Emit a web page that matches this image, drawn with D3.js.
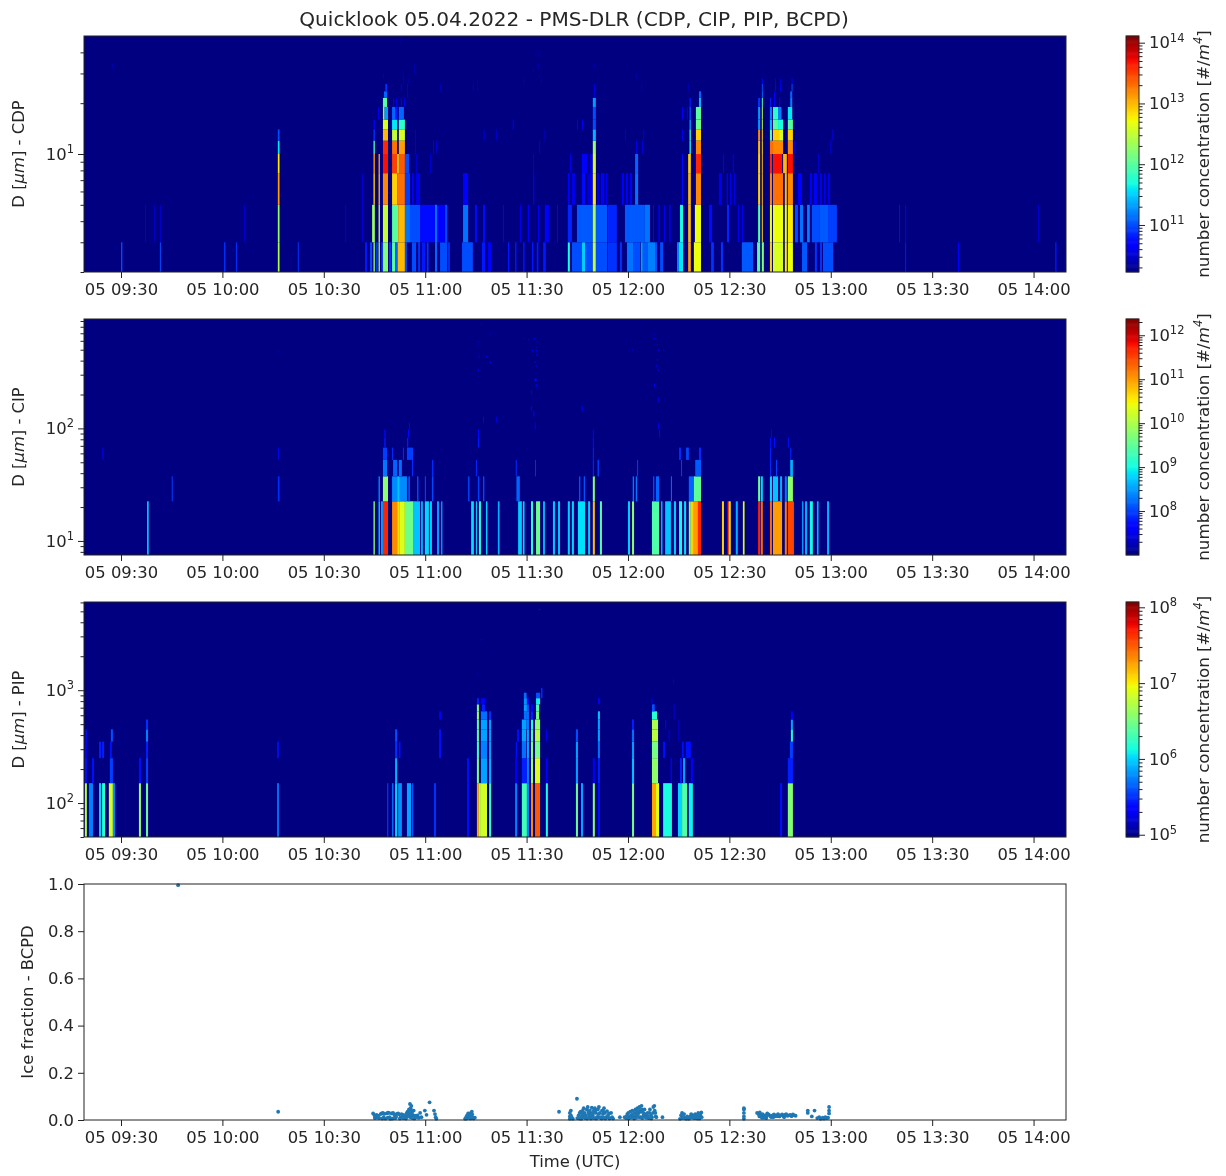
<!DOCTYPE html>
<html><head><meta charset="utf-8">
<script src="https://cdn.jsdelivr.net/npm/d3@7"></script>
<style>
html,body{margin:0;padding:0;background:#fff;}
svg{display:block;filter:blur(0.45px);}
text{font-family:"DejaVu Sans",sans-serif;fill:#262626;}
</style></head><body><svg id="c" width="1226" height="1176"></svg>
<script>
// All times: minutes after 09:00 UTC. Concentrations: log10 of number concentration.
const titleText = "Quicklook 05.04.2022 - PMS-DLR (CDP, CIP, PIP, BCPD)";
const xTickMinutes = [30,60,90,120,150,180,210,240,270,300];
const xTickLabels = ["05 09:30","05 10:00","05 10:30","05 11:00","05 11:30","05 12:00","05 12:30","05 13:00","05 13:30","05 14:00"];
const xRange = [19.05,309.6];

// ---- CDP ----
const cdpEdges = [2,3,5,7.7,10,12,14,16,19,21.5,23.5,26,28,30,32,34,36,38,40,42,44,46,48,50];
const cdpRow0 = [[30,30.4,11],[41.5,41.8,11],[60.5,60.9,10.9],[64,64.3,10.9],[76.4,76.9,12.4],[82.3,82.6,10.9],[102.2,102.8,10.8],[103.7,104.3,11],[104.7,105.1,12.3],[105.4,106,10.9],[106.2,106.6,12.3],[107,107.5,10.9],[107.5,109,12.2],[109.3,109.9,10.9],[110.2,111.1,12],[111.1,111.7,11.1],[111.8,114,13],[114,114.6,11],[116.1,117.3,11],[117.9,118.5,10.9],[119,120,10.8],[120.5,121,10.9],[122.9,123.5,11.1],[124.4,126.5,11],[126.8,127.3,10.9],[130.9,134.1,11],[136.8,137.7,10.8],[138.6,139.5,10.7],[144.5,144.9,10.8],[146.6,147,10.8],[149,149.4,10.8],[151.6,152,10.8],[153,153.5,10.8],[154.9,155.7,10.8],[162.2,162.8,11.7],[163.4,166.4,11],[166.4,167.3,11.5],[167.3,169.6,11],[169.6,170.5,12.5],[170.5,173.8,11],[174,176.7,10.9],[177.6,178.2,10.9],[179.7,181.5,11.15],[181.5,183.6,11],[183.8,184.4,11.3],[184.4,185.9,11.05],[185.9,188,11.2],[188,188.6,11],[189.5,190.4,11],[194.5,195.1,11.2],[195.1,196.3,11.6],[197.8,198.6,13.1],[199.5,201.6,12.7],[204.6,205.4,10.9],[207.5,208.1,10.9],[213.7,217,11.05],[218.2,219.1,12],[219.6,220.2,12.2],[222,222.6,12.9],[222.9,225.9,12.6],[226.4,227,12.8],[227.3,228.8,12.7],[231.5,233,11.05],[235.3,235.9,10.9],[236.8,237.4,10.9],[237.7,240.7,11],[262,262.3,10.8],[277.6,278,10.7],[306.4,306.8,10.8]];
const cdpRow1 = [[37.1,37.4,10.5],[39.8,40.1,10.5],[41.5,41.8,10.5],[66.4,66.7,10.5],[76.4,76.9,12.3],[96.3,96.6,10.5],[101.3,101.7,10.5],[104.3,105.1,12.3],[106.2,106.6,12.5],[107.5,109,12.5],[110.2,112,12],[112,114,13],[114,115.5,11.15],[115.5,118.5,11],[118.5,122.9,10.75],[122.9,123.5,11.15],[123.5,125.9,10.7],[125.9,126.5,11],[131.2,132.7,11.15],[134.7,135.3,10.75],[137.1,137.7,10.75],[143,143.3,10.7],[148,148.3,10.7],[150.4,150.7,10.7],[153.4,153.8,10.7],[155.4,156.6,10.7],[159,159.3,10.7],[162.2,163.4,10.85],[164.9,169.6,11.05],[169.6,170.5,12.4],[170.5,173.8,11.05],[174,176.7,10.85],[179.1,185,11.05],[185,186.5,11.15],[187.4,187.7,10.7],[189,189.4,10.7],[190.7,191,10.7],[192.2,192.6,10.7],[195.4,196.3,11.7],[197.8,198.6,13],[199.8,201.6,12.7],[204,204.9,10.75],[209.3,209.9,10.85],[212.5,212.8,10.7],[213.7,214,10.7],[218.5,219.1,12],[219.6,219.9,12.9],[222,222.6,12.7],[222.9,225.9,12.7],[226.4,227,12.7],[227.3,228.8,12.8],[229.4,230.3,11],[230.9,231.8,11.15],[233,233.8,11.2],[234.4,236.8,11],[236.8,239.2,11.05],[239.2,241.8,10.95],[260.2,260.5,10.75],[262,262.3,10.6],[301.4,301.7,10.6]];
const cdpRow2 = [[76.4,76.9,13.1],[101.3,101.7,10.5],[104.7,105.1,12.9],[106.2,106.6,13],[107.5,109,13.2],[110.2,111.7,12.9],[111.7,114,13.3],[114,115.5,10.95],[116.1,116.6,10.65],[117.3,118.5,10.6],[131.2,132.7,10.65],[151.9,152.3,10.55],[162.2,162.8,10.65],[163.4,164.3,10.6],[166.4,167.3,10.75],[168,168.4,10.6],[168.8,169.6,10.65],[169.6,170.5,12.8],[170.8,171.4,10.6],[172,173,10.65],[173.4,174,10.6],[178.2,178.8,10.7],[179.4,180,10.7],[180.5,181.2,10.7],[182.1,183,11.15],[196,196.3,10.75],[197.8,198.6,13],[200.1,201.6,13.2],[206.9,207.8,10.6],[209.2,209.6,10.6],[210.2,210.6,10.6],[211.4,211.8,10.6],[218.5,219.1,12.9],[219.6,219.9,13],[222,222.6,13.2],[222.9,225.9,13.3],[226.4,227,13],[227.3,228.8,13.2],[230.3,231.5,10.7],[233.8,234.4,10.7],[235,235.9,10.7],[236.8,237.4,10.6],[238,238.5,10.6],[239.1,239.8,10.6]];
const cdpRow3 = [[76.4,76.9,12.8],[104.7,105.1,13.1],[106.2,106.6,13.1],[107.5,109,13.7],[110.2,111.7,13.5],[111.7,112.2,12.6],[112.2,114,13.4],[114,115.2,11],[117.3,117.6,10.5],[121.4,121.7,10.5],[151.9,152.2,10.5],[162.8,163.1,10.6],[166.4,167.9,10.7],[168.8,169.6,10.6],[169.6,170.5,12.6],[182.1,183,11.1],[196,196.3,10.75],[197.8,198.6,12.9],[200.1,201.6,13.6],[208.1,208.4,10.6],[211,211.3,10.55],[218.5,219.1,12.9],[219.6,219.9,13],[222,222.6,13.6],[222.9,225.6,13.7],[225.9,227,13],[227.3,228.8,13.7],[236.2,236.5,10.5]];
const cdpRow4 = [[76.4,76.9,11.6],[104.7,105.1,11.9],[107.5,109,13.6],[110.2,111.7,13.3],[112.2,114,13.1],[117,117.3,10.5],[122.3,122.6,10.5],[123.2,123.5,10.5],[153.7,154,10.5],[169.6,170.5,12.3],[182.4,182.7,10.6],[184.2,184.5,10.6],[198.2,198.6,11.7],[200.1,201.6,13.2],[218.5,219.1,13],[219.6,219.9,12.9],[222,222.9,13.3],[222.9,225.9,13.2],[227.3,228.8,13.2],[229.1,229.4,10.6],[239.9,240.2,10.6]];
const cdpRow5 = [[76.4,76.9,11],[104.7,105.1,10.9],[107.5,109,13],[110.2,111.7,12.5],[112.2,114,12.6],[117,117.3,10.5],[137.3,137.6,10.5],[140.9,141.2,10.5],[155.3,155.6,10.5],[169.6,170.5,11.4],[179.1,179.4,10.5],[184.5,184.8,10.5],[196,196.3,10.6],[198.2,198.6,11.8],[200.1,201.6,12.9],[218.5,219.1,13.2],[219.6,219.9,12.9],[222,222.6,12],[222.9,224.7,12.9],[224.7,225.9,12.6],[227.3,228.8,12.9],[240.5,240.8,10.6]];
const cdpRow6 = [[104.7,105.1,10.7],[107.5,109,12.6],[110.2,111.7,11.6],[112.2,114,11.8],[145.9,146.2,10.6],[164.9,165.2,10.6],[166.4,166.7,10.6],[169.6,170.5,11],[198.2,198.6,11.3],[200.1,201.6,12.1],[218.5,219.1,11.3],[219.6,219.9,12.5],[222,222.6,11.4],[222.9,224.4,12],[224.4,225.9,11.7],[227.3,228.8,12]];
const cdpRow7 = [[106,106.3,10.7],[107.5,108,12.3],[108,109,11.3],[110.2,111.2,11.1],[111.2,111.9,10.8],[112.2,113.7,11.1],[169.6,170.5,11],[196,196.3,10.7],[197.4,197.7,10.6],[198.2,198.6,11],[200.1,201.6,12],[218.5,219.1,11.3],[219.6,219.9,12.4],[222,222.6,11.2],[222.9,224.4,11.8],[224.4,225.4,11.2],[227.3,228.6,11.6]];
const cdpRow8 = [[107.5,108.7,12],[110.5,110.8,10.6],[111.4,111.7,10.6],[112.8,113.1,10.6],[113.7,114,10.6],[169.6,170.5,11.3],[198.2,198.6,10.8],[201,201.6,11.4],[218.5,219.1,10.9],[219.6,219.9,12],[222,222.3,10.8],[223.2,223.5,10.7],[224.7,225,10.7],[228,228.6,11.2]];
const cdpRow9 = [[107.8,108.7,11.1],[114.6,114.9,10.5],[169.9,170.2,10.6],[201,201.6,11.1],[219.6,219.9,11.1],[223.2,223.5,10.7],[228,228.6,11.1]];
const cdpSparse = [[10,108.2,108.7,10.9],[10,112.8,113.1,10.5],[10,114.6,114.9,10.5],[10,124.4,124.7,10.4],[10,134.1,134.4,10.4],[10,135.3,135.6,10.4],[10,169.9,170.2,10.6],[10,219.6,219.9,11],[10,223.5,223.8,10.6],[10,225,225.3,10.6],[10,228.4,228.7,11],[10,197.8,198.1,10.4],[10,183.9,184.2,10.4],[11,113.4,113.7,10.4],[11,115,115.3,10.4],[11,135.3,135.6,10.4],[11,149,149.3,10.4],[11,154.3,154.6,10.4],[11,219.6,219.9,10.7],[11,223.5,223.8,10.5],[11,225,225.3,10.5],[11,228.4,228.7,10.7],[12,107.5,107.8,10.4],[12,113.4,113.7,10.4],[12,153.7,154,10.4],[12,182.4,182.7,10.4],[13,116.7,117,10.4],[13,151.9,152.2,10.4],[14,116.7,117,10.4],[14,153.4,153.7,10.4],[14,169.9,170.2,10.4],[14,27.3,27.7,10.4],[17,153.4,153.7,10.4],[21,112.5,112.8,10.4]];

// ---- CIP ----
const cipEdges = d3.range(0,63).map(k => 7.5 + 15*k);
const cipRow0 = [[37.7,38.2,8.7],[104.7,105.1,9.8],[106.2,106.6,8.75],[106.9,107.5,8.5],[107.5,109,11.7],[110.2,111.7,11.1],[111.7,112.5,10.6],[112.5,114,10.3],[114,116.4,9.6],[116.4,118.5,8.7],[118.8,119.3,8.7],[119.9,121.1,8.8],[121.4,122,8.75],[123.5,124.1,8.5],[124.7,125.1,8.5],[133.6,134.4,8.85],[135,135.3,8.85],[135.9,136.5,9.1],[138,138.4,8.8],[141.5,142,8.6],[147.5,148.6,8.75],[148.9,149.4,8.75],[151.3,151.9,9.1],[152.8,154,9.6],[154.9,155.4,8.75],[157.8,158.4,8.7],[159.3,159.9,8.7],[162.2,162.8,8.75],[163.4,164,8.8],[165.2,167.3,8.85],[168.2,168.8,8.75],[169.6,170.2,10.8],[171.7,172.3,9.4],[180,180.6,8.75],[181.2,181.8,9.8],[187.1,189.2,9.4],[189.8,190.2,8.7],[191,192.7,8.7],[193.6,194.2,8.75],[195.1,196,9],[196.6,197.2,8.85],[198,198.6,9.8],[198.6,199.5,10.7],[199.5,200.7,11],[200.7,201.6,11.7],[207.8,208.4,10.7],[209.5,209.9,11.5],[209.9,210.4,10.5],[211.9,212.5,8.6],[214,214.5,10.3],[218.5,219.1,11.7],[219.3,219.9,11.3],[222,222.6,11.3],[222.9,225.6,11],[226.4,227,11.2],[227.3,229.1,11.5],[231.5,231.9,8.5],[232.4,233,8.6],[233.8,234.7,9],[235.9,236.4,8.6],[238.9,239.5,8.6]];
const cipRow1 = [[45,45.3,8],[76.4,76.9,7.9],[106.2,106.6,8.4],[107.5,109,9.8],[110.2,111.7,8.4],[111.7,112.5,8.7],[112.5,114.6,8.4],[115,115.5,8.1],[117.6,118,8.1],[119.9,120.2,8.05],[122,122.4,8.05],[132.7,133.1,8.05],[135.6,136,8],[137.1,137.5,8.05],[147,148,8.2],[165.5,165.9,8.1],[166.9,167.3,8.1],[169.6,170.2,9.7],[181.4,181.8,8.3],[182.3,182.7,8.3],[187.4,187.8,8.05],[188.3,189.2,8.2],[192.7,193,8.25],[198,199.5,8.2],[199.5,201.6,9.5],[218.5,219.1,9.6],[219.3,219.9,8.8],[222,222.6,8.8],[222.9,224.4,8.7],[225,225.6,8.6],[226.4,227,8.3],[227.3,228.8,9.8]];
const cipRow2 = [[107.5,108.7,8.3],[110.5,111.7,8.2],[112.2,113.1,8.25],[116.1,116.4,7.9],[122,122.4,7.9],[135,135.3,7.9],[146.8,147.1,7.9],[152.5,152.8,7.9],[169.6,169.9,7.9],[171,171.4,8],[182.7,183,8],[195.7,196,8],[199.9,201.6,8.15],[222,222.3,7.9],[223.8,224.1,8],[228,228.8,8.6]];
const cipRow3 = [[107.5,108.7,8],[110.2,110.5,7.9],[113.4,113.7,7.9],[114.6,116.4,8],[195.1,195.7,7.9],[197.2,198,8.05],[201,201.6,7.9],[222,222.3,7.85],[228,228.3,7.85],[169.6,169.9,7.85],[76.4,76.7,7.7],[24.5,24.8,7.6]];
const cipSparse = [[4,107.9,108.3,7.8],[4,114.6,115,7.8],[4,135.6,136,7.8],[4,169.6,169.9,7.75],[4,222,222.3,7.75],[4,223.2,223.5,7.75],[4,227.3,227.6,7.75],[5,107.9,108.3,7.7],[5,114.9,115.3,7.7],[5,135.6,136,7.7],[5,169.6,169.9,7.65],[5,189.2,189.5,7.65],[5,222.3,222.6,7.65],[6,115.2,115.5,7.6],[6,152.4,152.7,7.5],[6,188.9,189.2,7.45],[7,137.1,137.4,7.6],[7,141,141.3,7.5],[8,152,152.3,7.6],[9,151.3,151.6,7.55],[9,166.3,166.6,7.55],[11,188.9,189.2,7.5],[13,151.3,151.6,7.5],[15,152.7,153,7.55],[15,187.7,188,7.5],[17,152.4,153,7.7],[21,135.6,135.9,7.55],[21,188.9,189.2,7.5],[23,152.7,153,7.5],[23,188.3,188.6,7.5],[25,139.2,139.5,7.55],[25,152.4,152.7,7.5],[26,188.6,188.9,7.5],[28,135.8,136.1,7.55],[28,138,138.3,7.5],[29,152.7,153,7.6],[32,151.6,151.9,7.5],[32,152.7,153,7.55],[32,181.2,181.5,7.45],[32,188.9,189.2,7.5],[32,190.4,190.7,7.45],[34,152.7,153,7.5],[36,188.6,188.9,7.5],[38,135.6,135.9,7.55],[38,153,153.3,7.55],[40,150.4,150.7,7.5],[41,148.9,149.2,7.45],[41,152.2,152.5,7.5],[41,187.7,188,7.5],[44,139.2,139.5,7.5],[44,187.7,188,7.5],[56,136.7,137,7.55],[31,76.4,76.7,7.35]];

// ---- PIP ----
const pipEdges = d3.range(0,61).map(k => 50 + 100*k);
const pipRow0 = [[19.3,19.9,6.75],[20.5,21.7,5.75],[23.5,24.1,6],[24.4,25.3,6.2],[26.4,27.6,6.85],[27.6,28.2,5.8],[35.3,35.9,6.6],[37.4,38,6.45],[76.2,76.7,5.75],[108.7,109.1,5.5],[110.2,110.6,5.7],[111.1,111.7,6],[112,113.1,5.8],[114.6,115.8,5.85],[116.1,116.5,5.6],[122.6,123.2,5.5],[132.4,133,5.4],[135.3,135.9,7.25],[135.9,136.5,6.7],[136.5,138.3,6.85],[138.9,139.5,6.25],[146.6,147.2,5.75],[148.6,150.1,6.3],[150.1,150.7,5.8],[151.3,151.9,7.35],[152.5,154,7.5],[155.7,156.3,6.15],[164.6,165.2,6.45],[166.1,166.7,5.85],[169.6,170.2,6.55],[171.1,171.7,5.4],[181.2,181.8,6.5],[187.1,188.3,7.25],[188.3,189.2,6.9],[190.4,193,6.15],[194.8,196,6],[196,197.5,6.35],[198,199.2,6.1],[225,225.6,5.4],[227.3,228.8,6.55]];
const pipRow1 = [[19.3,19.9,5.4],[21.4,22,5.4],[26.7,27.6,5.55],[35.3,35.9,5.4],[37.4,38,5.55],[111.1,111.7,5.9],[132.4,133,5.4],[135.3,135.9,6.5],[136.5,138.3,5.85],[138.9,139.5,5.9],[146.6,147.2,5.3],[148.6,150.1,5.45],[150.1,150.7,5.75],[151.3,151.9,6.6],[152.5,154,6.9],[155.7,156.3,5.3],[164.6,165.2,5.85],[169.6,170.2,5.3],[171.1,171.7,5.45],[181.2,181.8,5.95],[187.1,188.9,6.6],[192.6,193,5.3],[195.4,196,5.45],[196.3,196.9,5.85],[198.6,199.2,5.35],[227.3,228.8,5.45]];
const pipRow2 = [[19.3,19.9,5.3],[23.5,24.1,5.45],[24.4,25,5.45],[26.7,27.3,5.4],[37.4,38,5.45],[76.2,76.7,5.4],[111.1,111.7,5.5],[112.2,112.7,5.4],[124.1,124.7,5.4],[135.3,135.9,6.3],[136.5,138.3,5.75],[138.9,139.5,5.85],[146.8,147.2,5.4],[148.6,149.9,5.7],[150.1,150.7,5.85],[151.3,151.9,6.5],[152.5,154,6.5],[164.6,165.2,5.85],[171.1,171.7,5.7],[181.2,181.8,5.85],[187.1,188.9,6.5],[190.4,191,5.4],[196,196.5,5.4],[197.1,198.6,5.4],[227.9,228.8,5.55]];
const pipRow3 = [[19.5,19.9,5.4],[27,27.6,5.6],[37.4,38,5.75],[111.1,111.7,5.6],[124.1,124.7,5.4],[135.3,135.9,6.4],[136.5,138.3,5.85],[138.9,139.5,5.85],[147.2,147.8,5.4],[148.6,149.9,5.85],[150.1,150.7,5.85],[151.3,151.9,6.3],[152.5,154,6.75],[155.7,156,5.3],[164.6,165.2,5.6],[171.1,171.7,5.85],[181.2,181.8,5.7],[187.1,188.9,6.75],[192,192.3,5.2],[194.9,195.2,5.2],[228.2,228.8,6.15]];
const pipRow4 = [[37.4,38,5.5],[135.3,135.9,6.4],[136.5,138.3,5.85],[138.9,139.5,5.85],[148.6,149.9,5.85],[149.9,150.7,5.75],[151.3,151.9,6.15],[152.5,154,6.6],[171.1,171.7,5.85],[181.2,181.8,5.45],[187.1,188.9,6.7],[191,191.3,5.3],[194.9,195.2,5.2],[228.2,228.8,5.85]];
const pipRow5 = [[124.1,124.7,5.3],[135.3,135.9,6.6],[136.5,138.3,5.7],[138.9,139.5,5.5],[149.2,150.1,5.7],[150.1,150.7,5.7],[151.3,151.9,5.45],[152.8,153.7,6.5],[171.1,171.7,5.95],[187.1,188.6,6.2],[193.5,193.8,5.2],[228.2,228.8,5.3]];
const pipRow6 = [[135.3,135.9,6.5],[136.8,137.7,5.45],[149.2,150.1,5.85],[150.1,150.7,5.6],[151.3,151.9,5.35],[152.8,153.7,6.35],[187.1,187.9,5.6],[193.5,193.8,5.2]];
const pipRow7 = [[135.3,135.9,5.45],[136.5,137.7,5.3],[149.2,150.1,5.8],[150.1,150.7,5.35],[152.8,154,6.1],[171.1,171.7,5.3],[186.9,187.3,5.2]];
const pipRow8 = [[149.2,150,5.7],[152.8,154,5.6],[154.3,154.7,5.5]];
const pipSparse = [[9,154.3,154.7,5.5],[11,193.3,193.6,5.2],[13,135.4,135.7,5.1],[27,136.4,136.7,5.2],[51,153.6,154,5.4]];

// ---- BCPD ice fraction scatter: [minute, fraction] ----
const icePoints = [[46.9,.995],[76.5,.035],[104.6,.028],[105,.02],[105.3,.012],[105.6,.022],[106,.018],[106.4,.008],[106.8,.025],[107.1,.028],[107.5,.03],[107.9,.026],[108.2,.006],[108.6,.028],[109,.031],[109.3,.03],[109.7,.005],[110.1,.028],[110.5,.03],[110.8,.024],[111.2,.008],[111.6,.026],[112,.028],[112.3,.024],[112.7,.011],[113,.025],[113.4,.022],[113.8,.02],[114.1,.01],[114.5,.029],[114.8,.035],[115.2,.045],[115.5,.068],[115.7,.05],[115.9,.06],[116.1,.03],[116.3,.02],[116.6,.04],[116.9,.018],[117.3,.012],[117.7,.02],[118.1,.01],[118.5,.03],[118.9,.012],[119.9,.04],[120.4,.022],[121.3,.075],[122.6,.04],[122.9,.025],[123.1,.012],[123.3,.005],
[131.8,.005],[132.1,.012],[132.4,.02],[132.7,.028],[132.9,.01],[133.1,.018],[133.4,.006],[133.6,.024],[133.8,.035],[134,.012],[134.3,.006],[134.7,.01],[159.6,.035],[162.8,.005],[162.8,.015],[162.8,.03],[163.1,.04],[163.1,.02],[163.4,.01],[163.7,.005],[164.9,.09],
[165,.008],[165.4,.02],[165.7,.03],[166,.035],[166.3,.015],[166.6,.04],[166.9,.05],[167.2,.03],[167.5,.02],[167.8,.045],[168.1,.055],[168.4,.025],[168.7,.04],[169,.03],[169.3,.052],[169.6,.018],[169.9,.04],[170.2,.05],[170.5,.03],[170.8,.012],[171.1,.045],[171.4,.055],[171.7,.03],[172,.012],[172.3,.04],[172.6,.025],[172.9,.05],[173.2,.03],[173.5,.012],[173.8,.038],[174.1,.02],[174.4,.028],[174.7,.008],[175,.03],[175.3,.012],[175.6,.006],
[177.6,.012],[179,.012],[179.4,.008],[179.8,.025],[180.1,.03],[180.4,.015],[180.7,.035],[181,.02],[181.3,.04],[181.6,.015],[181.9,.03],[182.2,.045],[182.5,.02],[182.8,.05],[183.1,.03],[183.4,.055],[183.7,.012],[184,.06],[184.3,.035],[184.6,.02],[184.9,.045],[185.2,.012],[185.5,.02],[185.8,.03],[186.1,.008],[186.5,.045],[186.8,.02],[187.1,.012],[187.5,.055],[187.8,.06],[188.1,.03],[188.4,.012],[190.2,.012],
[195.4,.005],[195.7,.02],[196,.03],[196.3,.012],[196.6,.025],[196.9,.008],[197.5,.015],[198,.005],[198.4,.015],[198.7,.025],[199,.01],[199.3,.02],[199.6,.008],[199.9,.025],[200.2,.012],[200.5,.02],[200.8,.03],[201.1,.012],[201.4,.022],[201.7,.032],
[214.3,.005],[214.3,.015],[214.3,.03],[214.3,.045],[214.3,.05],[218.2,.03],[218.6,.025],[219,.032],[219.4,.018],[219.8,.025],[220.1,.01],[220.5,.02],[220.9,.008],[221.2,.028],[221.6,.024],[222,.018],[222.4,.012],[222.8,.02],[223.2,.024],[223.6,.016],[224,.02],[224.4,.025],[224.8,.015],[225.2,.02],[225.6,.024],[226,.016],[226.4,.022],[226.8,.025],[227.2,.018],[227.6,.02],[228,.022],[228.4,.016],[228.8,.024],[229.2,.02],[229.6,.018],[233.2,.04],[233.2,.03],[234.4,.015],[235.2,.04],[236,.008],[236.6,.012],[237,.005],[237.6,.01],[238,.006],[238.4,.012],[238.8,.008],[239.2,.01],[239.5,.028],[239.5,.04],[239.5,.055]];
const iceDensePoints = [[105.1,.008],[105.8,.01],[106.2,.012],[107.3,.006],[107.7,.012],[108.9,.01],[109.5,.012],[110.3,.006],[110.9,.01],[111.4,.014],[112.5,.006],[113.2,.01],[113.6,.008],[114.3,.006],[114.7,.014],[115,.02],[115.3,.03],[115.5,.04],[115.7,.03],[115.9,.04],[115.7,.02],[115.6,.012],[116,.01],[116.4,.008],[116.8,.006],[132.3,.006],[132.8,.018],[133.2,.028],[133.5,.012],[133.9,.024],[165.6,.006],[166.2,.005],[166.8,.012],[167.3,.008],[167.9,.006],[168.4,.012],[169,.006],[169.5,.01],[170,.008],[170.6,.006],[171,.012],[171.6,.01],[172.2,.006],[172.7,.01],[173.3,.006],[173.9,.012],[174.5,.006],[166.4,.028],[167.1,.018],[168.3,.035],[168.9,.018],[169.7,.03],[170.4,.04],[171.3,.025],[172.8,.035],[179.6,.015],[180.2,.006],[180.9,.01],[181.4,.025],[181.8,.006],[182.4,.01],[182.9,.025],[183.3,.012],[183.8,.035],[184.2,.008],[184.8,.028],[185.4,.01],[185.9,.015],[186.4,.03],[186.9,.006],[187.4,.03],[187.9,.04],[188.2,.015],[183.5,.04],[184.1,.045],[182.6,.035],[196.1,.008],[196.5,.012],[197.2,.005],[198.2,.01],[198.9,.012],[199.5,.012],[200,.008],[200.6,.006],[201.2,.006],[201.8,.012],[218.9,.015],[219.6,.01],[221,.016],[223,.012],[224.2,.016],[226.2,.012]];

// jet colormap (matplotlib segments)
const jetR = d3.scaleLinear().domain([0,.35,.66,.89,1]).range([0,0,1,1,.5]);
const jetG = d3.scaleLinear().domain([0,.125,.375,.64,.91,1]).range([0,0,1,1,0,0]);
const jetB = d3.scaleLinear().domain([0,.11,.34,.65,1]).range([.5,1,1,0,0]);
const jet = t => `rgb(${Math.round(255*jetR(t))},${Math.round(255*jetG(t))},${Math.round(255*jetB(t))})`;

const svg = d3.select("#c");
const FS = 16.4;
const xLeft = 84, xRight = 1066, cbLeft = 1126, cbRight = 1139;
const x = d3.scaleLinear().domain(xRange).range([xLeft,xRight]);

const panels = [
 {top:36, bottom:272, ylabel:"CDP", edges:cdpEdges, yDomain:[2,50], rows:[cdpRow0,cdpRow1,cdpRow2,cdpRow3,cdpRow4,cdpRow5,cdpRow6,cdpRow7,cdpRow8,cdpRow9], sparse:cdpSparse, cLog:[10.226,14.11], cTicks:[11,12,13,14], yMajor:[10], yMinor:[2,3,4,5,6,7,8,9,20,30,40]},
 {top:319, bottom:555, ylabel:"CIP", edges:cipEdges, yDomain:[7.5,937.5], rows:[cipRow0,cipRow1,cipRow2,cipRow3], sparse:cipSparse, cLog:[7.0,12.37], cTicks:[8,9,10,11,12], yMajor:[10,100], yMinor:[8,9,20,30,40,50,60,70,80,90,200,300,400,500,600,700,800,900]},
 {top:602, bottom:837, ylabel:"PIP", edges:pipEdges, yDomain:[50,6050], rows:[pipRow0,pipRow1,pipRow2,pipRow3,pipRow4,pipRow5,pipRow6,pipRow7,pipRow8], sparse:pipSparse, cLog:[4.97,8.07], cTicks:[5,6,7,8], yMajor:[100,1000], yMinor:[50,60,70,80,90,200,300,400,500,600,700,800,900,2000,3000,4000,5000,6000]}
];

function sup(sel, exp, fs){
  sel.text(null);
  sel.append("tspan").text("10");
  sel.append("tspan").attr("dy",-0.42*fs).attr("font-size",fs*0.7).text(exp);
}
function styleAxis(g){
  g.select(".domain").remove();
  g.selectAll("line").attr("stroke","#222").attr("stroke-width",1);
  g.selectAll("text").attr("font-size",FS).attr("font-family","DejaVu Sans").attr("fill","#262626");
}
function xAxis(bottom){
  const g = svg.append("g").attr("transform",`translate(0,${bottom})`)
    .call(d3.axisBottom(x).tickValues(xTickMinutes).tickFormat((d,i)=>xTickLabels[i]).tickSize(6).tickPadding(5));
  styleAxis(g);
}
function frame(top,bottom,l,r){
  svg.append("rect").attr("x",l).attr("y",top).attr("width",r-l).attr("height",bottom-top)
    .attr("fill","none").attr("stroke","#222").attr("stroke-width",1);
}
function yLabel(parts,cy,cx,fs){
  const t = svg.append("text").attr("transform",`translate(${cx},${cy}) rotate(-90)`).attr("text-anchor","middle").attr("font-size",fs||FS);
  parts.forEach(p=>t.append("tspan").attr("font-style",p[1]?"italic":null).text(p[0]));
  return t;
}

panels.forEach(p=>{
  const y = d3.scaleLog().domain(p.yDomain).range([p.bottom,p.top]);
  const norm = d3.scaleLinear().domain(p.cLog).range([0,1]).clamp(true);
  svg.append("rect").attr("x",xLeft).attr("y",p.top).attr("width",xRight-xLeft).attr("height",p.bottom-p.top).attr("fill",jet(0));
  const cells = [];
  p.rows.forEach((row,i)=>row.forEach(c=>cells.push({bin:i,t0:c[0],t1:c[1],v:c[2]})));
  p.sparse.forEach(c=>cells.push({bin:c[0],t0:c[1],t1:c[2],v:c[3]}));
  svg.append("g").selectAll("rect").data(cells).join("rect")
    .attr("x",d=>x(d.t0)).attr("width",d=>x(d.t1)-x(d.t0))
    .attr("y",d=>y(p.edges[d.bin+1])).attr("height",d=>y(p.edges[d.bin])-y(p.edges[d.bin+1]))
    .attr("fill",d=>jet(norm(d.v)));
  frame(p.top,p.bottom,xLeft,xRight);
  xAxis(p.bottom);
  const gm = svg.append("g").attr("transform",`translate(${xLeft},0)`)
    .call(d3.axisLeft(y).tickValues(p.yMinor.filter(v=>v>=p.yDomain[0]&&v<=p.yDomain[1])).tickFormat("").tickSize(3.5));
  styleAxis(gm);
  const gM = svg.append("g").attr("transform",`translate(${xLeft},0)`)
    .call(d3.axisLeft(y).tickValues(p.yMajor).tickFormat(()=>"").tickSize(6).tickPadding(4));
  styleAxis(gM);
  gM.selectAll("text").each(function(d){ sup(d3.select(this),String(Math.round(Math.log10(d))),FS); });
  yLabel([["D ["],["μm",1],["] - "+p.ylabel]],(p.top+p.bottom)/2,24);
  const cb = d3.scaleLinear().domain(p.cLog).range([p.bottom,p.top]);
  const levels = d3.range(0,256).map(i=>p.cLog[0]+(p.cLog[1]-p.cLog[0])*i/256);
  const step = (p.cLog[1]-p.cLog[0])/256;
  svg.append("g").selectAll("rect").data(levels).join("rect")
    .attr("x",cbLeft).attr("width",cbRight-cbLeft)
    .attr("y",d=>cb(d+step)-0.3).attr("height",d=>cb(d)-cb(d+step)+0.6)
    .attr("fill",d=>jet(norm(d+step/2)));
  frame(p.top,p.bottom,cbLeft,cbRight);
  const cminor = [];
  for(let e=Math.floor(p.cLog[0]);e<p.cLog[1];e++) for(let m=2;m<10;m++){ const v=e+Math.log10(m); if(v>p.cLog[0]&&v<p.cLog[1]) cminor.push(v); }
  styleAxis(svg.append("g").attr("transform",`translate(${cbRight},0)`).call(d3.axisRight(cb).tickValues(cminor).tickFormat("").tickSize(3.5)));
  const gc = svg.append("g").attr("transform",`translate(${cbRight},0)`).call(d3.axisRight(cb).tickValues(p.cTicks).tickFormat(()=>"").tickSize(6).tickPadding(4));
  styleAxis(gc);
  gc.selectAll("text").each(function(d){ sup(d3.select(this),String(d),FS); });
  yLabel([["number concentration [#/"],["m",1],[""]],(p.top+p.bottom)/2,1209,16.7)
    .call(t=>{t.append("tspan").attr("dy",-0.42*FS).attr("font-size",FS*.7).attr("font-style","italic").text("4");t.append("tspan").attr("dy",0.42*FS).text("]");});
});

// Ice fraction panel
const top4=884,bot4=1120;
const y4 = d3.scaleLinear().domain([0,1]).range([bot4,top4]);
svg.append("g").selectAll("circle").data(icePoints.concat(iceDensePoints)).join("circle")
  .attr("cx",d=>x(d[0])).attr("cy",d=>y4(d[1])).attr("r",1.9).attr("fill","#1f77b4");
frame(top4,bot4,xLeft,xRight);
xAxis(bot4);
styleAxis(svg.append("g").attr("transform",`translate(${xLeft},0)`).call(d3.axisLeft(y4).tickValues([0,.2,.4,.6,.8,1]).tickFormat(d3.format(".1f")).tickSize(6).tickPadding(4)));
yLabel([["Ice fraction - BCPD"]],(top4+bot4)/2,33);
svg.append("text").attr("x",575).attr("y",1167).attr("text-anchor","middle").attr("font-size",FS).text("Time (UTC)");
svg.append("text").attr("x",574).attr("y",26).attr("text-anchor","middle").attr("font-size",20.1).text(titleText);
</script></body></html>
